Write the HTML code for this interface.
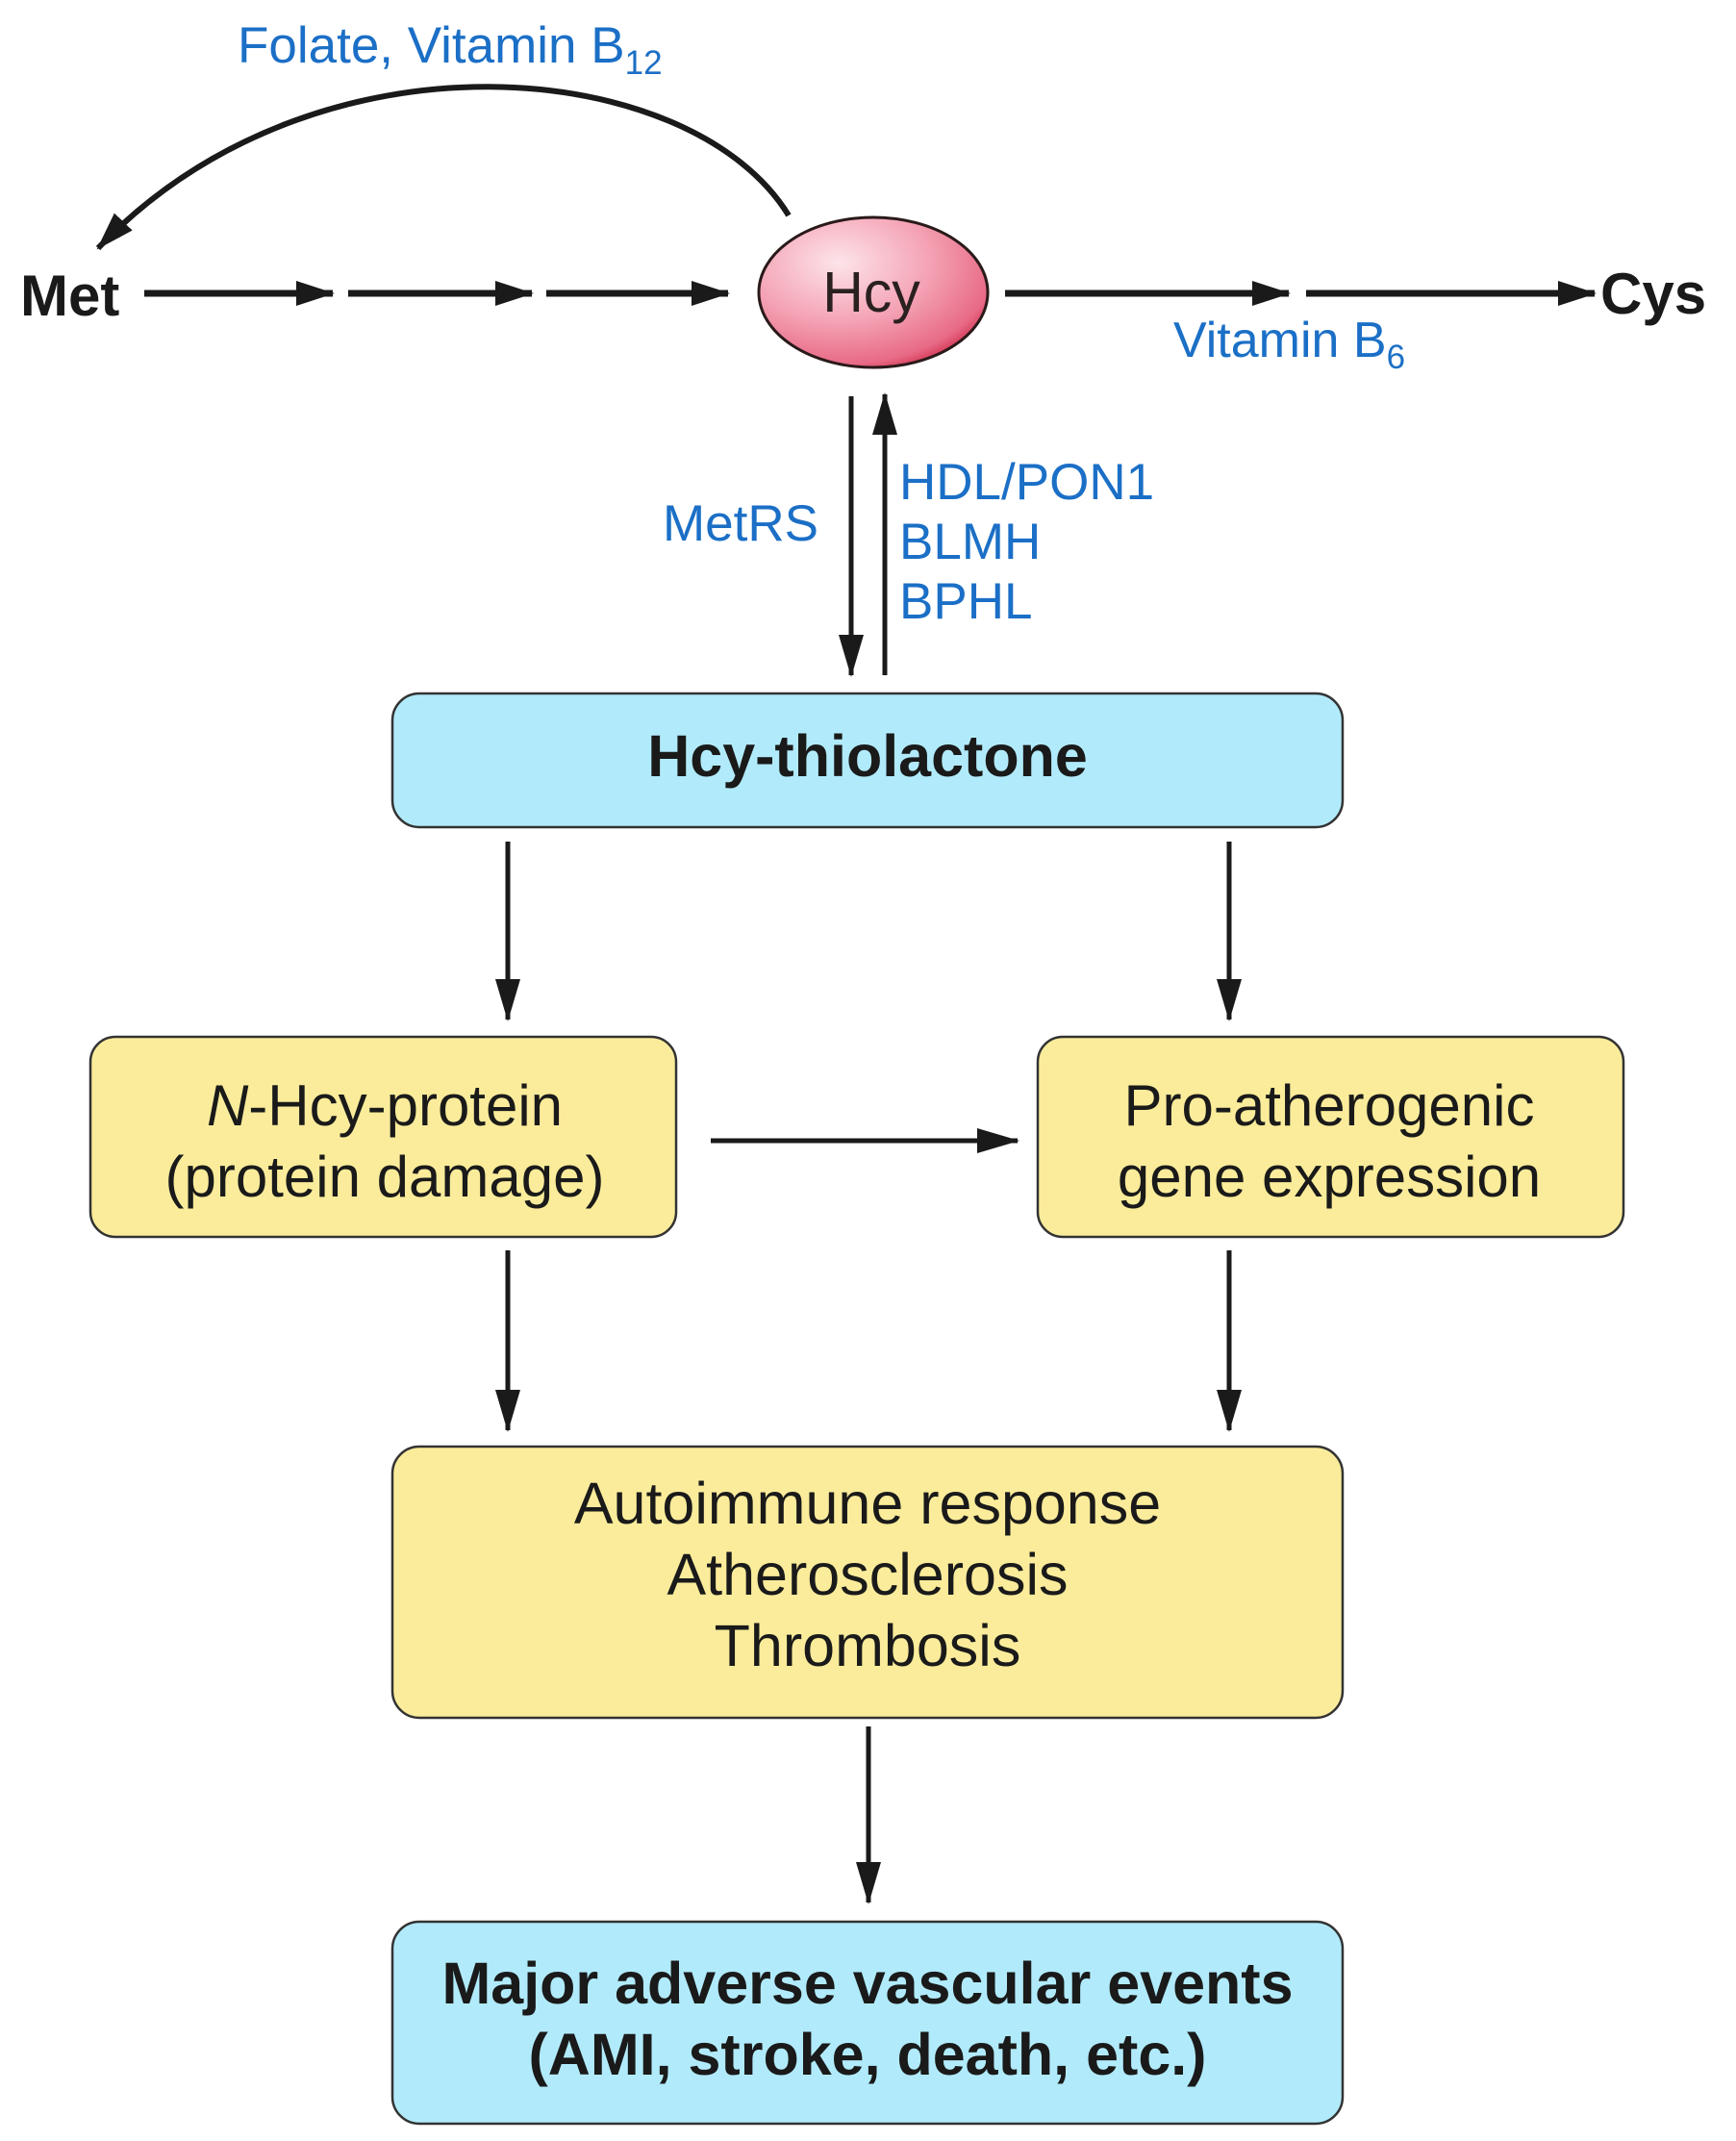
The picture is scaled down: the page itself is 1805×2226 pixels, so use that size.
<!DOCTYPE html>
<html><head><meta charset="utf-8"><style>
html,body{margin:0;padding:0;background:#fff;}
svg{display:block;}
text{font-family:"Liberation Sans",Arial,sans-serif;}
</style></head><body>
<svg width="1805" height="2226" viewBox="0 0 1805 2226" xmlns="http://www.w3.org/2000/svg">
<defs>
<radialGradient id="pg" cx="0.35" cy="0.3" r="0.8">
<stop offset="0" stop-color="#fde4ea"/>
<stop offset="0.5" stop-color="#f4a2b4"/>
<stop offset="0.85" stop-color="#e86a86"/>
<stop offset="1" stop-color="#c8203f"/>
</radialGradient>
<marker id="ah" markerWidth="40" markerHeight="28" refX="38" refY="14" orient="auto" markerUnits="userSpaceOnUse">
<path d="M0,1 L40,14 L0,27 Z" fill="#1a1a1a"/>
</marker>
<marker id="ah2" markerWidth="44" markerHeight="26" refX="42" refY="13" orient="auto" markerUnits="userSpaceOnUse">
<path d="M0,0 L44,13 L0,26 Z" fill="#1a1a1a"/>
</marker>
</defs>

<text x="247" y="65" font-size="53" fill="#1b6fc6">Folate, Vitamin B<tspan font-size="35" dy="12">12</tspan></text>
<path d="M820,224 C720,60 330,20 102,258" fill="none" stroke="#1a1a1a" stroke-width="6" marker-end="url(#ah)"/>

<text x="21" y="328" font-size="60" font-weight="bold" fill="#1a1a1a">Met</text>
<g stroke="#1a1a1a" stroke-width="7" fill="none">
<line x1="150" y1="305" x2="346" y2="305" marker-end="url(#ah)"/>
<line x1="362" y1="305" x2="553" y2="305" marker-end="url(#ah)"/>
<line x1="568" y1="305" x2="757" y2="305" marker-end="url(#ah)"/>
<line x1="1045" y1="305" x2="1340" y2="305" marker-end="url(#ah)"/>
<line x1="1358" y1="305" x2="1658" y2="305" marker-end="url(#ah)"/>
</g>
<ellipse cx="908" cy="304" rx="119" ry="78" fill="url(#pg)" stroke="#2a1a1a" stroke-width="3"/>
<text x="906" y="324" font-size="59" text-anchor="middle" fill="#2a2020">Hcy</text>
<text x="1664" y="326" font-size="60" font-weight="bold" fill="#1a1a1a">Cys</text>
<text x="1220" y="371" font-size="52" fill="#1b6fc6">Vitamin B<tspan font-size="35" dy="12">6</tspan></text>

<g stroke="#1a1a1a" stroke-width="5" fill="none">
<line x1="885" y1="412" x2="885" y2="702" marker-end="url(#ah2)"/>
<line x1="920" y1="702" x2="920" y2="410" marker-end="url(#ah2)"/>
</g>
<text x="851" y="562" font-size="53" text-anchor="end" fill="#1b6fc6">MetRS</text>
<text x="935" y="519" font-size="53" fill="#1b6fc6">HDL/PON1</text>
<text x="935" y="581" font-size="53" fill="#1b6fc6">BLMH</text>
<text x="935" y="643" font-size="53" fill="#1b6fc6">BPHL</text>

<rect x="408" y="721" width="988" height="139" rx="28" fill="#b1ebfb" stroke="#333" stroke-width="2.5"/>
<text x="902" y="807" font-size="61" font-weight="bold" text-anchor="middle" fill="#1a1a1a">Hcy-thiolactone</text>

<g stroke="#1a1a1a" stroke-width="5" fill="none">
<line x1="528" y1="875" x2="528" y2="1060" marker-end="url(#ah2)"/>
<line x1="1278" y1="875" x2="1278" y2="1060" marker-end="url(#ah2)"/>
<line x1="739" y1="1186" x2="1058" y2="1186" marker-end="url(#ah2)"/>
<line x1="528" y1="1300" x2="528" y2="1487" marker-end="url(#ah2)"/>
<line x1="1278" y1="1300" x2="1278" y2="1487" marker-end="url(#ah2)"/>
<line x1="903" y1="1795" x2="903" y2="1978" marker-end="url(#ah2)"/>
</g>

<rect x="94" y="1078" width="609" height="208" rx="26" fill="#fbec9b" stroke="#333" stroke-width="2.5"/>
<text x="400" y="1170" font-size="60" text-anchor="middle" fill="#1a1a1a"><tspan font-style="italic">N</tspan>-Hcy-protein</text>
<text x="400" y="1244" font-size="60" text-anchor="middle" fill="#1a1a1a">(protein damage)</text>

<rect x="1079" y="1078" width="609" height="208" rx="26" fill="#fbec9b" stroke="#333" stroke-width="2.5"/>
<text x="1382" y="1170" font-size="60" text-anchor="middle" fill="#1a1a1a">Pro-atherogenic</text>
<text x="1382" y="1244" font-size="60" text-anchor="middle" fill="#1a1a1a">gene expression</text>

<rect x="408" y="1504" width="988" height="282" rx="28" fill="#fbec9b" stroke="#333" stroke-width="2.5"/>
<text x="902" y="1584" font-size="61" text-anchor="middle" fill="#1a1a1a">Autoimmune response</text>
<text x="902" y="1658" font-size="61" text-anchor="middle" fill="#1a1a1a">Atherosclerosis</text>
<text x="902" y="1732" font-size="61" text-anchor="middle" fill="#1a1a1a">Thrombosis</text>

<rect x="408" y="1998" width="988" height="210" rx="28" fill="#b1ebfb" stroke="#333" stroke-width="2.5"/>
<text x="902" y="2083" font-size="61" font-weight="bold" text-anchor="middle" fill="#1a1a1a">Major adverse vascular events</text>
<text x="902" y="2157" font-size="61" font-weight="bold" text-anchor="middle" fill="#1a1a1a">(AMI, stroke, death, etc.)</text>
</svg>
</body></html>
